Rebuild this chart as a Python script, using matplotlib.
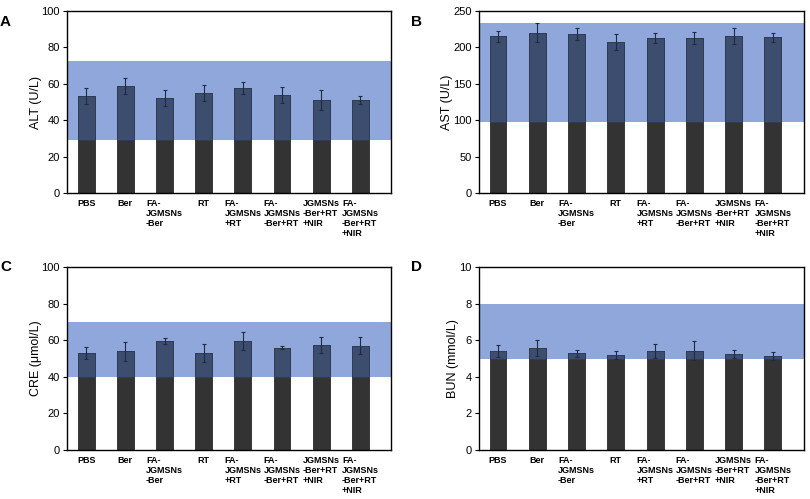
import matplotlib
matplotlib.use("Agg")
import matplotlib.pyplot as plt
import numpy as np

plt.rcParams['font.family'] = ['Liberation Sans', 'DejaVu Sans']

groups = ["PBS", "Ber", "FA-\nJGMSNs\n-Ber", "RT", "FA-\nJGMSNs\n+RT",
          "FA-\nJGMSNs\n-Ber+RT", "JGMSNs\n-Ber+RT\n+NIR", "FA-\nJGMSNs\n-Ber+RT\n+NIR"]

alt_mean = [53.5, 58.7, 52.2, 55.0, 57.8, 54.0, 51.0, 51.0]
alt_err = [4.3, 4.5, 4.5, 4.3, 3.2, 4.5, 5.5, 2.2]
alt_range = (29, 72.7)

ast_mean = [215, 220, 218, 207, 213, 213, 215, 214]
ast_err = [8, 13, 8, 11, 7, 8, 11, 6]
ast_range = (98, 234)

cre_mean = [53.0, 54.0, 59.5, 53.0, 59.5, 55.8, 57.3, 57.0]
cre_err = [3.5, 5.3, 1.7, 5.0, 5.0, 0.8, 4.3, 4.7]
cre_range = (40, 70)

bun_mean = [5.40, 5.57, 5.28, 5.18, 5.42, 5.43, 5.25, 5.15]
bun_err = [0.33, 0.42, 0.18, 0.23, 0.40, 0.53, 0.20, 0.22]
bun_range = (4.95, 8.0)

band_color = "#8fa7db"
bar_color = "#333333"
overlap_color = "#3d4d6e"
err_color = "#1f2a44"

panels = [
    ("A", "ALT (U/L)", alt_mean, alt_err, alt_range, 100, 20, [0.0827, 0.613, 0.400, 0.365], (0.0, 0.955)),
    ("B", "AST (U/L)", ast_mean, ast_err, ast_range, 250, 50, [0.591, 0.613, 0.401, 0.365], (0.508, 0.955)),
    ("C", "CRE (\u03bcmol/L)", cre_mean, cre_err, cre_range, 100, 20, [0.0827, 0.098, 0.400, 0.367], (0.0, 0.465)),
    ("D", "BUN (mmol/L)", bun_mean, bun_err, bun_range, 10, 2, [0.591, 0.098, 0.401, 0.367], (0.508, 0.465)),
]

fig = plt.figure(figsize=(8.1, 4.99), dpi=100)
x = np.arange(len(groups))
w = 0.43

for letter, ylab, mean, err, (lo, hi), ymax, step, rect, lpos in panels:
    ax = fig.add_axes(rect)
    mean = np.array(mean)
    ax.axhspan(lo, hi, color=band_color, zorder=0, lw=0)
    ax.bar(x, mean, width=w, color=bar_color, edgecolor="#2a2a2a", lw=0.6, zorder=2)
    ax.bar(x, mean - lo, bottom=lo, width=w, color=overlap_color,
           edgecolor="#2f3b57", lw=0.6, zorder=3)
    ax.errorbar(x, mean, yerr=err, fmt="none", ecolor=err_color, elinewidth=0.8,
                capsize=1.5, capthick=0.8, zorder=4)
    ax.set_xlim(-0.49, 7.78)
    ax.set_ylim(0, ymax)
    ax.set_yticks(np.arange(0, ymax + step / 2, step))
    ax.set_xticks(x)
    ax.set_xticklabels(groups, fontsize=6.5, fontweight="bold", ha="center",
                       va="top", multialignment="left", linespacing=1.15)
    ax.tick_params(axis="x", length=0, pad=4)
    ax.tick_params(axis="y", direction="out", length=3, width=0.8, labelsize=8, pad=2)
    for s in ax.spines.values():
        s.set_linewidth(1.0)
        s.set_color("black")
    ax.set_ylabel(ylab, fontsize=9, labelpad=0)
    fig.text(lpos[0], lpos[1], letter, fontsize=11, fontweight="bold", ha="left", va="center")

fig.savefig("out.png", dpi=100)
